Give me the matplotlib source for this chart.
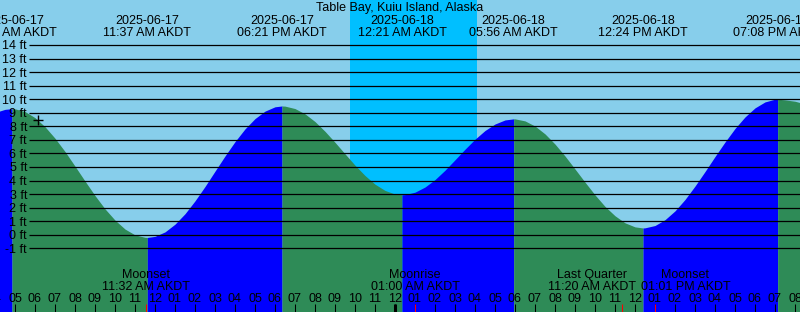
"""Tide chart: Table Bay, Kuiu Island, Alaska (XTide style), 2025-06-17/18."""

import numpy as np
import matplotlib
matplotlib.use("Agg")
import matplotlib.pyplot as plt
from matplotlib.transforms import offset_copy

plt.rcParams["font.family"] = ["Liberation Sans", "DejaVu Sans"]
plt.rcParams["font.size"] = 9

# ---------------------------------------------------------------------------
# Data  (time = hours since 2025-06-17 00:00 AKDT, height in ft)
# ---------------------------------------------------------------------------
TITLE = "Table Bay, Kuiu Island, Alaska"

TIDE_T = [4.0, 4.5, 4.85, 5.0, 5.5, 6.0, 6.5, 7.0, 7.5, 8.0, 8.5, 9.0, 9.5,
          10.0, 10.5, 11.0, 11.5, 11.617, 12.0, 12.5, 13.0, 13.5, 14.0, 14.5,
          15.0, 15.5, 16.0, 16.5, 17.0, 17.5, 18.0, 18.35, 18.5, 19.0, 19.5,
          20.0, 20.5, 21.0, 21.5, 22.0, 22.5, 23.0, 23.5, 24.0, 24.35, 24.5,
          25.0, 25.5, 26.0, 26.5, 27.0, 27.5, 28.0, 28.5, 29.0, 29.5, 29.933,
          30.0, 30.5, 31.0, 31.5, 32.0, 32.5, 33.0, 33.5, 34.0, 34.5, 35.0,
          35.5, 36.0, 36.4, 36.5, 37.0, 37.5, 38.0, 38.5, 39.0, 39.5, 40.0,
          40.5, 41.0, 41.5, 42.0, 42.5, 43.0, 43.133, 43.5, 44.0, 44.5]
TIDE_H = [9.02, 9.25, 9.30, 9.29, 9.09, 8.64, 7.97, 7.12, 6.14, 5.06, 3.96,
          2.89, 1.91, 1.08, 0.42, -0.01, -0.19, -0.20, -0.12, 0.21, 0.78,
          1.55, 2.50, 3.56, 4.69, 5.81, 6.87, 7.81, 8.57, 9.12, 9.44, 9.50,
          9.49, 9.31, 8.92, 8.35, 7.63, 6.82, 5.97, 5.13, 4.37, 3.73, 3.27,
          3.00, 2.95, 2.96, 3.14, 3.52, 4.07, 4.76, 5.53, 6.31, 7.05, 7.69,
          8.17, 8.47, 8.55, 8.55, 8.40, 8.02, 7.44, 6.69, 5.81, 4.85, 3.88,
          2.94, 2.09, 1.40, 0.88, 0.58, 0.50, 0.51, 0.68, 1.11, 1.76, 2.60,
          3.59, 4.66, 5.77, 6.84, 7.84, 8.69, 9.36, 9.80, 10.00, 10.00, 9.95,
          9.85, 9.65]

# High / low tides
EXT_T = [4.85, 11.617, 18.35, 24.35, 29.933, 36.4, 43.133]
EXT_DATE = ["2025-06-17", "2025-06-17", "2025-06-17", "2025-06-18",
            "2025-06-18", "2025-06-18", "2025-06-18"]
EXT_TIME = ["04:51 AM AKDT", "11:37 AM AKDT", "06:21 PM AKDT", "12:21 AM AKDT",
            "05:56 AM AKDT", "12:24 PM AKDT", "07:08 PM AKDT"]

# Moon events
MOON_NAME = ["Moonset", "Moonrise", "Last Quarter", "Moonset"]
MOON_T = [11.533, 25.0, 35.333, 37.017]
MOON_TIME = ["11:32 AM AKDT", "01:00 AM AKDT", "11:20 AM AKDT", "01:01 PM AKDT"]

# Night (sunset -> sunrise)
SUNSET_T = 21.75
SUNRISE_T = 28.1

# Current-time marker
NOW_T = 6.13
NOW_H = 8.5

FT_LEVELS = list(range(-1, 15))

# ---------------------------------------------------------------------------
# Styling / layout (pixels of an 800 x 312 image)
# ---------------------------------------------------------------------------
W, H = 800, 312
SKY = "#87CEEB"
NIGHT = "#00BFFF"
FALLING = "#2E8B57"
RISING = "#0000FF"
X_LIM = (4.25, 44.25)          # 20 px per hour, 05:00 at x=15
Y_LIM = (-5.70, 17.32)         # 13.55 px per ft, 0 ft at y=234.7
LABEL_SHIFT_PX = {2: -30, 3: 30}


def fy(ypx):
    """Pixel row -> axes fraction."""
    return 1 - ypx / H


fig = plt.figure(figsize=(W / 100, H / 100), dpi=100)
fig.patch.set_facecolor(SKY)
ax = fig.add_axes([0, 0, 1, 1])
ax.set_facecolor(SKY)
ax.set_xlim(*X_LIM)
ax.set_ylim(*Y_LIM)
ax.set_xticks([])
ax.set_yticks([])
for sp in ax.spines.values():
    sp.set_visible(False)

xtr = ax.get_xaxis_transform()
ytr = ax.get_yaxis_transform()

# Night sky
ax.axvspan(SUNSET_T, SUNRISE_T, color=NIGHT, lw=0, zorder=0)

# Water, coloured by rising / falling
t = np.array(TIDE_T)
h = np.array(TIDE_H)
bounds = [t[0]] + EXT_T + [t[-1]]
for a, b in zip(bounds[:-1], bounds[1:]):
    m = (t >= a) & (t <= b)
    rising = h[m][-1] > h[m][0]
    ax.fill_between(t[m], h[m], Y_LIM[0], color=RISING if rising else FALLING,
                    lw=0, zorder=1)

# Height grid and labels
ax.hlines(FT_LEVELS, 29 / W, 1, transform=ytr, color="black", lw=0.9, zorder=2)
lab_tr = offset_copy(ytr, fig=fig, y=-4.5, units="dots")
for lvl in FT_LEVELS:
    ax.text(27 / W, lvl, f"{lvl} ft", transform=lab_tr, ha="right",
            va="baseline", zorder=3)

# Current time marker
ax.plot([NOW_T], [NOW_H], marker="+", color="black", ms=7, mew=1.0, zorder=4)

# Title and high/low labels
ax.text(0.5, fy(11.5), TITLE, transform=ax.transAxes, ha="center",
        va="baseline", zorder=3)
for te, d, tm in zip(EXT_T, EXT_DATE, EXT_TIME):
    ax.text(te, fy(24), d, transform=xtr, ha="center", va="baseline", zorder=3)
    ax.text(te, fy(36), tm, transform=xtr, ha="center", va="baseline", zorder=3)

# Hour ticks and labels
hours = np.arange(4, 45)
tick_h = 8 / H
ax.vlines(hours, 0, tick_h, transform=xtr, color="black", lw=0.75, zorder=3)
ax.vlines([24], 0, tick_h, transform=xtr, color="black", lw=2.2, zorder=3)
for hr in hours:
    ax.text(hr, fy(301.5), f"{(hr - 1) % 12 + 1:02d}", transform=xtr,
            ha="center", va="baseline", zorder=3)

# Moon events
ax.vlines(MOON_T, 0, tick_h, transform=xtr, color="red", lw=0.75, zorder=3)
for i, (name, mt, tm) in enumerate(zip(MOON_NAME, MOON_T, MOON_TIME)):
    tr = offset_copy(xtr, fig=fig, x=LABEL_SHIFT_PX.get(i, 0), units="dots")
    ax.text(mt, fy(278), name, transform=tr, ha="center", va="baseline", zorder=3)
    ax.text(mt, fy(290), tm, transform=tr, ha="center", va="baseline", zorder=3)

fig.savefig("out.png", dpi=100, facecolor=SKY)
